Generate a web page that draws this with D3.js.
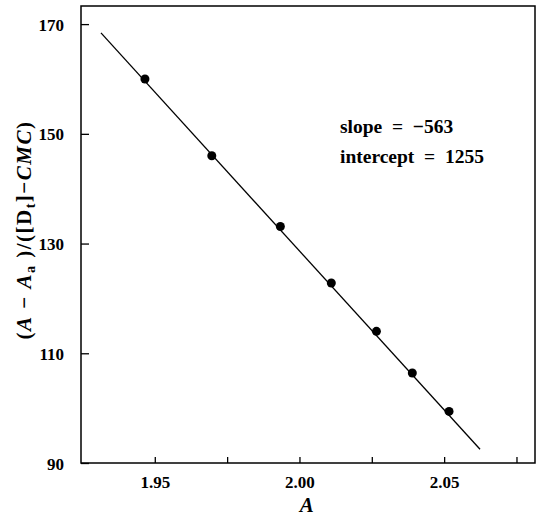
<!DOCTYPE html>
<html>
<head>
<meta charset="utf-8">
<script src="https://cdn.jsdelivr.net/npm/d3@7"></script>
<style>
  body { margin: 0; background: #fff; }
  svg { display: block; }
  .axis text { font-family: "Liberation Serif", serif; font-size: 17px; font-weight: bold; fill: #000; }
  .axis line { stroke: #000; stroke-width: 1.3; }
  .frame { fill: none; stroke: #000; stroke-width: 1.5; }
  .fit { stroke: #000; stroke-width: 1.3; fill: none; }
  .dot { fill: #000; }
  .title, .note { font-family: "Liberation Serif", serif; fill: #000; white-space: pre; }
  .note { font-size: 19.5px; font-weight: bold; }
  .title { font-size: 21px; font-weight: bold; }
</style>
</head>
<body>
<svg id="chart" width="542" height="520"></svg>
<script>
const absorbance = [1.9466, 1.9697, 1.9934, 2.011, 2.0266, 2.039, 2.0517];
const ratio = [160.0, 146.0, 133.1, 122.8, 114.0, 106.4, 99.4];

// fit parameters as printed, and the drawn fit line's ends
const slope = -563;
const intercept = 1255;
const fitX = [1.9314, 2.0624];
const fitY = [168.4, 92.5];

const yTicks = [90, 110, 130, 150, 170];
const xTicks = [1.95, 1.975, 2.00, 2.025, 2.05, 2.075];
const xTickLabels = [1.95, 2.00, 2.05];

const margin = {top: 6, right: 7, bottom: 57, left: 81};
const width = 542 - margin.left - margin.right;
const height = 520 - margin.top - margin.bottom;

const svg = d3.select("#chart");
const chart = svg.append("g").attr("transform", "translate(" + margin.left + "," + margin.top + ")");

const x = d3.scaleLinear().domain([1.9245, 2.0814]).range([0, width]);
const y = d3.scaleLinear().domain([90, 173.3]).range([height, 0]);

// y axis, ticks pointing inward
const yAxis = chart.append("g").attr("class", "y axis")
    .call(d3.axisLeft(y).tickValues(yTicks).tickSize(-8).tickPadding(17).tickFormat(d3.format("d")));
yAxis.select(".domain").remove();
yAxis.selectAll("text").attr("dy", "0.36em");

// x axis, ticks pointing inward, labels only on every other tick
const xAxis = chart.append("g").attr("class", "x axis")
    .attr("transform", "translate(0," + height + ")")
    .call(d3.axisBottom(x).tickValues(xTicks).tickSize(-6).tickPadding(13)
        .tickFormat(d => xTickLabels.some(v => Math.abs(v - d) < 1e-9) ? d3.format(".2f")(d) : ""));
xAxis.select(".domain").remove();

chart.append("rect").attr("class", "frame")
    .attr("x", 0).attr("y", 0).attr("width", width).attr("height", height);

// regression line
chart.append("line").attr("class", "fit")
    .attr("x1", x(fitX[0])).attr("y1", y(fitY[0]))
    .attr("x2", x(fitX[1])).attr("y2", y(fitY[1]));

chart.selectAll("circle.dot").data(absorbance)
    .enter().append("circle")
        .attr("class", "dot")
        .attr("r", 4.5)
        .attr("cx", d => x(d))
        .attr("cy", (d, i) => y(ratio[i]));

// fit parameters
chart.append("text").attr("class", "note")
    .attr("x", 259).attr("y", 127)
    .text("slope  =  \u2212" + Math.abs(slope));
chart.append("text").attr("class", "note")
    .attr("x", 259).attr("y", 157)
    .text("intercept  =  " + intercept);

// axis titles
svg.append("text").attr("class", "title")
    .attr("x", margin.left + x(2.0025)).attr("y", 512)
    .attr("text-anchor", "middle")
    .style("font-style", "italic")
    .text("A");

const yt = svg.append("text").attr("class", "title")
    .attr("transform", "translate(31," + 230 + ") rotate(-90)")
    .attr("text-anchor", "middle")
    .style("letter-spacing", "1.5px");
yt.append("tspan").text("(");
yt.append("tspan").style("font-style", "italic").text("A");
yt.append("tspan").text(" \u2212 ");
yt.append("tspan").style("font-style", "italic").text("A");
yt.append("tspan").attr("font-size", "14px").attr("dy", 4).text("a");
yt.append("tspan").attr("dy", -4).text(" )/([D");
yt.append("tspan").attr("font-size", "14px").attr("dy", 4).text("t");
yt.append("tspan").attr("dy", -4).text("]\u2212");
yt.append("tspan").style("font-style", "italic").text("CMC");
yt.append("tspan").text(")");
</script>
</body>
</html>
